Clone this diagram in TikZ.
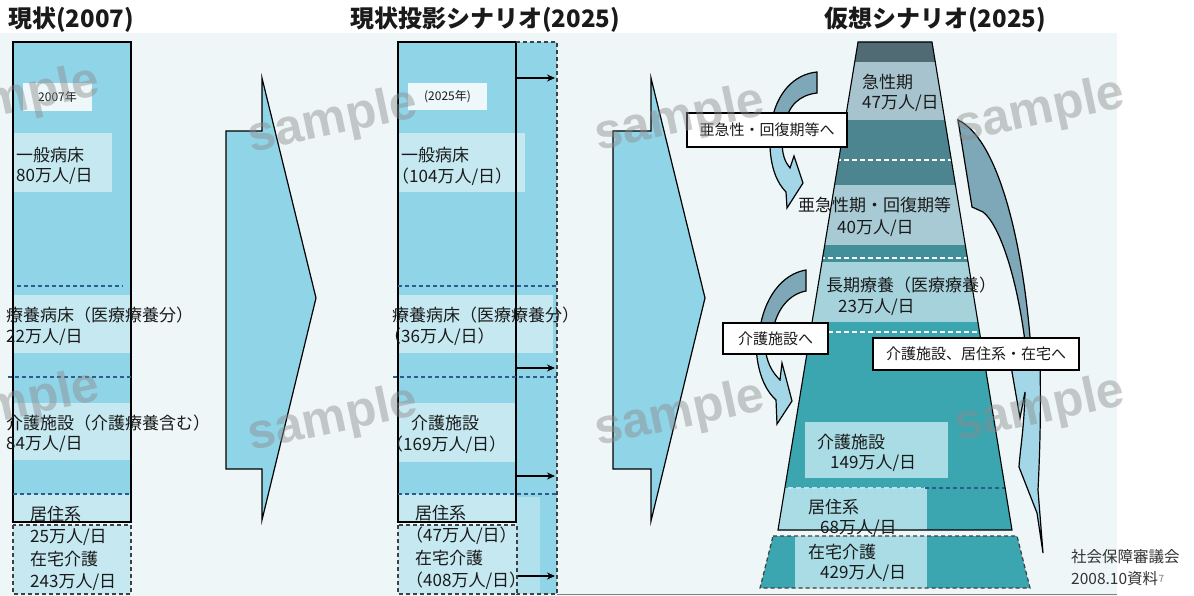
\documentclass[tikz,border=0pt]{standalone}
\usepackage{fontspec}
\setmainfont{Noto Sans CJK JP}
\newfontfamily\wmfont{Liberation Sans}
\usetikzlibrary{arrows.meta}
\definecolor{bg}{HTML}{EEF6F7}
\definecolor{bar}{HTML}{90D4E8}
\definecolor{barlt}{HTML}{C5E8F1}
\definecolor{barlt2}{HTML}{B2E1EE}
\definecolor{yrbox}{HTML}{EEF7F9}
\definecolor{ink}{HTML}{1A1A1A}
\definecolor{dblue}{HTML}{2E5C8A}
\definecolor{cdark}{HTML}{7EA8B8}
\definecolor{clight}{HTML}{A3D7E7}
\definecolor{tA}{HTML}{506B74}
\definecolor{tB}{HTML}{A7C4CE}
\definecolor{tC}{HTML}{4C8590}
\definecolor{tD}{HTML}{A8CAD4}
\definecolor{tE}{HTML}{438F99}
\definecolor{tF}{HTML}{A6D2DC}
\definecolor{tG}{HTML}{3BA5B0}
\definecolor{tH}{HTML}{A9DCE5}
\definecolor{srcgray}{HTML}{333333}
\definecolor{wmgray}{HTML}{8C8C8C}
\begin{document}
\begin{tikzpicture}[x=1pt,y=-1pt,
 txt/.style={anchor=west, inner sep=0pt, font=\fontsize{17}{20}\selectfont, text=ink},
 smalltxt/.style={inner sep=0pt, font=\fontsize{12}{14}\selectfont, text=ink},
 ttl/.style={anchor=west, inner sep=0pt, font=\bfseries\fontsize{24}{28}\selectfont, text=ink},
 callout/.style={draw=black, line width=1.3pt, fill=white, inner sep=0pt, font=\fontsize{15}{18}\selectfont, text=ink},
 bigarrow/.style={draw=black, line width=1.2pt, fill=bar, line join=miter},
 curvdk/.style={draw=black, line width=1.2pt, fill=cdark},
 curvlt/.style={draw=black, line width=1.2pt, fill=clight},
 bluedash/.style={draw=dblue, line width=1.2pt, dash pattern=on 4pt off 3pt},
 whitedash/.style={draw=white, line width=1.2pt, dash pattern=on 5pt off 3pt},
 ltbluedash/.style={draw=HTMLltb, line width=1.2pt, dash pattern=on 5pt off 3pt},
 blkdash/.style={draw=black!75, line width=1.2pt, dash pattern=on 4pt off 3pt},
 wmk/.style={font=\wmfont\bfseries\fontsize{50}{50}\selectfont, text=wmgray, text opacity=0.45, rotate=12, inner sep=0pt},
 flow/.style={-{Stealth[length=8pt,width=7pt]}, line width=1.5pt},
 srctxt/.style={anchor=west, inner sep=0pt, font=\fontsize{15.5}{18}\selectfont, text=srcgray}
]
\colorlet{HTMLltb}{white!40!bar}
\useasboundingbox (0,0) rectangle (1194,596);
\fill[white] (0,0) rectangle (1194,596);
\fill[bg] (0,33) rectangle (1117,596);
\draw[gray, line width=0.8pt] (557,594.5) -- (1117,594.5);

% titles
\node[ttl] (t1) at (8,20) {現状(2007)};
\node[ttl] (t2) at (350,20) {現状投影シナリオ(2025)};
\node[ttl] (t3) at (824,20) {仮想シナリオ(2025)};

% ---------- left column ----------
\fill[bar] (13,42) rectangle (131,522);
\fill[barlt] (13,133) rectangle (112,192);
\fill[barlt] (13,295) rectangle (131,353);
\fill[barlt] (13,403) rectangle (131,460);
\fill[barlt] (13,494) rectangle (131,522);
\fill[yrbox] (23,83) rectangle (92,111);
\draw[line width=1.3pt] (13,42) rectangle (131,522);
\draw[bluedash] (17,286) -- (123,286);
\draw[bluedash] (8,377) -- (131,377);
\draw[bluedash] (13,494) -- (131,494);
\filldraw[fill=barlt, blkdash] (13,525) rectangle (131,594);

% ---------- big arrows ----------
\draw[bigarrow] (226,131) -- (262,131) -- (262,78) -- (316,298) -- (262,520) -- (262,469) -- (226,469) -- cycle;
\draw[bigarrow] (613,131) -- (651,131) -- (651,78) -- (705,298) -- (651,521) -- (651,469) -- (613,469) -- cycle;

% ---------- middle column ----------
\fill[bar] (516,42) rectangle (557,594);
\fill[barlt2] (516,497) rectangle (540,594);
\fill[bar] (398,42) rectangle (516,522);
\fill[barlt] (398,133) rectangle (525,192);
\fill[barlt] (398,295) rectangle (553,353);
\fill[barlt] (398,403) rectangle (516,462);
\fill[barlt] (398,494) rectangle (516,522);
\fill[yrbox] (408,83) rectangle (487,110);
\draw[line width=1.3pt] (398,42) rectangle (516,522);
\draw[blkdash] (516,42) -- (557,42) -- (557,594) -- (516,594);
\filldraw[fill=barlt, blkdash] (398,525) rectangle (517,594);
\draw[bluedash] (398,286) -- (557,286);
\draw[bluedash] (393,377) -- (557,377);
\draw[bluedash] (398,494) -- (557,494);
\coordinate (m1s) at (516,78);  \coordinate (m1e) at (555,78);
\coordinate (m2s) at (516,368); \coordinate (m2e) at (555,368);
\coordinate (m3s) at (516,476); \coordinate (m3e) at (555,476);
\coordinate (m4s) at (518,576); \coordinate (m4e) at (555,576);
\draw[flow] (m1s) -- (m1e);
\draw[flow] (m2s) -- (m2e);
\draw[flow] (m3s) -- (m3e);
\draw[flow] (m4s) -- (m4e);

% ---------- right trapezoid ----------
\begin{scope}
\clip (858,42) -- (932,42) -- (1012,530) -- (778,530) -- cycle;
\fill[tA] (700,40) rectangle (1100,62);
\fill[tB] (700,62) rectangle (1100,120);
\fill[tC] (700,120) rectangle (1100,185);
\fill[tD] (700,185) rectangle (1100,245);
\fill[tE] (700,245) rectangle (1100,262);
\fill[tF] (700,262) rectangle (1100,322);
\fill[tG] (700,322) rectangle (1100,532);
\fill[tH] (805,422) rectangle (948,478);
\fill[tH] (700,488) rectangle (927,532);
\draw[whitedash] (700,160) -- (1100,160);
\draw[whitedash] (700,258) -- (1100,258);
\draw[whitedash] (700,332) -- (1100,332);
\draw[ltbluedash] (700,488) -- (925,488);
\draw[bluedash] (925,488) -- (1100,488);
\end{scope}
\draw[line width=1.1pt] (858,42) -- (932,42) -- (1012,530) -- (778,530) -- cycle;
\begin{scope}
\clip (773,536) -- (1017,536) -- (1030,588) -- (760,588) -- cycle;
\fill[tG] (700,530) rectangle (1100,590);
\fill[tH] (795,530) rectangle (927,590);
\end{scope}
\draw[blkdash] (773,536) -- (1017,536) -- (1030,588) -- (760,588) -- cycle;

% ---------- curved arrows ----------
\draw[curvdk] (771,125) .. controls (776,92) and (795,74) .. (817,72) -- (817,93) .. controls (800,95) and (788,105) .. (785,125) -- cycle;
\draw[curvlt] (770,140) -- (770,147) .. controls (771,168) and (777,183) .. (786,192) -- (787,208) -- (803,183) -- (794,156) -- (790,168) .. controls (785,162) and (782,155) .. (782,140) -- cycle;
\draw[curvdk] (759,335) .. controls (763,298) and (782,274) .. (806,270) -- (806,291) .. controls (790,294) and (776,308) .. (772,335) -- cycle;
\draw[curvlt] (756,345) .. controls (757,372) and (765,390) .. (776,400) -- (777,424) -- (792,401) -- (782,363) -- (780,380) .. controls (772,372) and (766,362) .. (765,345) -- cycle;
\draw[curvdk] (958,120) -- (972,207) -- (983,212) .. controls (1000,225) and (1018,280) .. (1026,350) -- (1031,350) .. controls (1024,250) and (1000,140) .. (958,120) -- cycle;
\draw[curvlt] (1012,362) -- (1012,372) -- (1020,418) -- (1025,392) .. controls (1024,430) and (1020,450) .. (1019,467) -- (1037,513) -- (1043,553) -- (1038,490) .. controls (1040,450) and (1041,410) .. (1040,362) -- cycle;

\node[callout, minimum width=160pt, minimum height=34pt] (cbA) at (767,130) {亜急性・回復期等へ};
\node[callout, minimum width=105pt, minimum height=31pt] (cbB) at (775.5,338.5) {介護施設へ};
\node[callout, minimum width=206pt, minimum height=32pt] (cbC) at (976,354) {介護施設、居住系・在宅へ};

% ---------- texts: left ----------
\node[smalltxt] (y1) at (57.5,97) {2007年};
\node[txt] (l1a) at (16,155) {一般病床};
\node[txt] (l1b) at (16,176) {80万人/日};
\node[txt] (l2a) at (6,315) {療養病床（医療療養分）};
\node[txt] (l2b) at (6,337) {22万人/日};
\node[txt] (l3a) at (6,423) {介護施設（介護療養含む）};
\node[txt] (l3b) at (6,444) {84万人/日};
\node[txt] (l4a) at (30,514) {居住系};
\node[txt] (l4b) at (30,537) {25万人/日};
\node[txt] (l5a) at (30,559) {在宅介護};
\node[txt] (l5b) at (30,582) {243万人/日};

% ---------- texts: middle ----------
\node[smalltxt] (y2) at (447.5,97) {(2025年)};
\node[txt] (m1a) at (401,155) {一般病床};
\node[txt] (m1b) at (392,177) {（104万人/日）};
\node[txt] (m2a) at (392,315) {療養病床（医療療養分）};
\node[txt] (m2b) at (384,337) {（36万人/日）};
\node[txt] (m3a) at (411,423) {介護施設};
\node[txt] (m3b) at (386,445) {（169万人/日）};
\node[txt] (m4a) at (415,513) {居住系};
\node[txt] (m4b) at (406,536) {（47万人/日）};
\node[txt] (m5a) at (415,558) {在宅介護};
\node[txt] (m5b) at (406,581) {（408万人/日）};

% ---------- texts: right ----------
\node[txt] (r1a) at (862,82) {急性期};
\node[txt] (r1b) at (862,103) {47万人/日};
\node[txt] (r2a) at (798,205) {亜急性期・回復期等};
\node[txt] (r2b) at (837,228) {40万人/日};
\node[txt] (r3a) at (826,285) {長期療養（医療療養）};
\node[txt] (r3b) at (838,307) {23万人/日};
\node[txt] (r4a) at (817,442) {介護施設};
\node[txt] (r4b) at (830,463) {149万人/日};
\node[txt] (r5a) at (808,507) {居住系};
\node[txt] (r5b) at (820,528) {68万人/日};
\node[txt] (r6a) at (808,552) {在宅介護};
\node[txt] (r6b) at (820,573) {429万人/日};

% source
\node[srctxt] (s1) at (1071,557) {社会保障審議会};
\node[srctxt] (s2) at (1071,579) {2008.10資料};
\node[anchor=west, inner sep=0pt, font=\fontsize{10}{12}\selectfont, text=gray] (s3) at (s2.east) {7};

% ---------- watermarks ----------
\node[wmk] (w1) at (15,100) {sample};
\node[wmk] (w2) at (333,122) {sample};
\node[wmk] (w3) at (680,120) {sample};
\node[wmk] (w4) at (1040,112) {sample};
\node[wmk] (w5) at (15,405) {sample};
\node[wmk] (w6) at (333,420) {sample};
\node[wmk] (w7) at (680,415) {sample};
\node[wmk] (w8) at (1040,410) {sample};
\end{tikzpicture}
\end{document}
